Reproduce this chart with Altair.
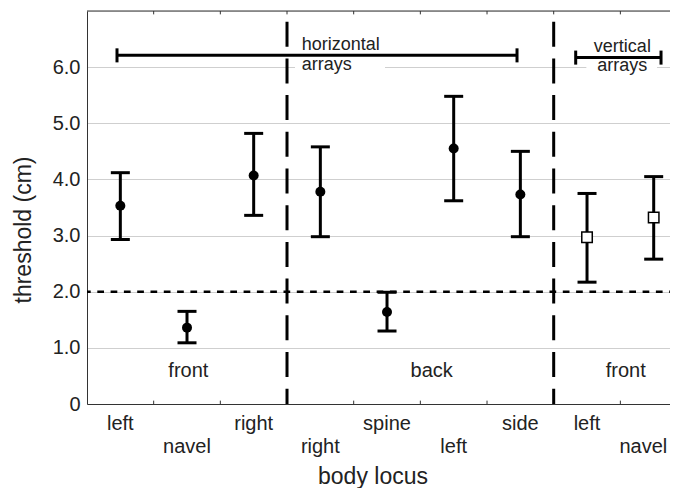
import altair as alt
import pandas as pd

# ---------------- data ----------------
loci = ["left", "navel", "right", "right", "spine", "left", "side", "left", "navel"]
array_type = ["horizontal"] * 7 + ["vertical"] * 2
means = [3.53, 1.36, 4.07, 3.78, 1.64, 4.55, 3.73, 2.97, 3.32]
lower = [2.93, 1.09, 3.36, 2.98, 1.30, 3.62, 2.98, 2.17, 2.58]
upper = [4.12, 1.65, 4.82, 4.58, 1.99, 5.48, 4.50, 3.75, 4.05]
label_row = [1, 2, 1, 2, 1, 2, 1, 1, 2]

section_names = ["front", "back", "front"]
section_x = [1.52, 5.17, 8.08]
section_y = [0.59, 0.59, 0.59]

dividers = [3, 7]
criterion = 2.0
boundaries = [1, 2, 3, 4, 5, 6, 7, 8]

group_line1 = ["horizontal", "vertical"]
group_line2 = ["arrays", "arrays"]
group_start = [0.45, 7.33]
group_end = [6.45, 8.61]
group_level = [6.21, 6.17]
group_text_x = [3.22, 8.03]
group_text_y1 = [6.305, 6.27]
group_text_y2 = [5.95, 5.93]
group_mask_x1 = [3.12, 7.49]
group_mask_x2 = [4.47, 8.55]

y_ticks = [0, 1, 2, 3, 4, 5, 6]
PLOT_W = 583
UNIT = 66.67
XMAX = PLOT_W / UNIT
YMAX = 7

FONT = "Liberation Sans"
INK = "#222222"

# ---------------- tables ----------------
pts = pd.DataFrame({
    "pos": [i + 0.5 for i in range(len(loci))],
    "locus": loci, "array": array_type,
    "mean": means, "lo": lower, "hi": upper, "row": label_row,
})
sections = pd.DataFrame({"name": section_names, "x": section_x, "y": section_y})
divs = pd.DataFrame({"x": dividers})
bnds = pd.DataFrame({"x": boundaries})
groups = pd.DataFrame({
    "l1": group_line1, "l2": group_line2, "start": group_start, "end": group_end,
    "level": group_level, "tx": group_text_x, "ty1": group_text_y1, "ty2": group_text_y2,
    "mx1": group_mask_x1, "mx2": group_mask_x2,
})
one = pd.DataFrame({"a": [0]})

xs = alt.Scale(domain=[0, XMAX], nice=False, zero=False)
ys = alt.Scale(domain=[0, YMAX], nice=False, zero=False)
xaxis = alt.Axis(labels=False, ticks=False, grid=False, domain=True,
                 domainColor="#333333", domainWidth=1, title=None)
yaxis = alt.Axis(values=y_ticks,
                 labelExpr="datum.value == 0 ? '0' : format(datum.value, '.1f')",
                 ticks=False, grid=True, gridColor="#cfcfcf", gridWidth=1,
                 domain=True, domainColor="#333333", domainWidth=1,
                 labelPadding=7, labelFontSize=20, labelFont=FONT,
                 labelColor=INK, title=None)


def X(f, **kw):
    return alt.X(f, type="quantitative", scale=xs, axis=xaxis, **kw)


def Y(f, **kw):
    return alt.Y(f, type="quantitative", scale=ys, axis=yaxis, **kw)


layers = []

# masks behind "arrays" text (interrupt gridline)
layers.append(alt.Chart(groups).mark_rect(color="white").encode(
    x=X("mx1"), x2="mx2", y=alt.Y(datum=5.82, type="quantitative", scale=ys, axis=yaxis),
    y2=alt.Y2(datum=6.1)))

# top border
layers.append(alt.Chart(one).mark_rule(color="#333333", strokeWidth=1).encode(
    x=alt.X(datum=0, type="quantitative", scale=xs, axis=xaxis), x2=alt.X2(datum=XMAX),
    y=alt.Y(datum=YMAX, type="quantitative", scale=ys, axis=yaxis)))

# inward ticks bottom and top
layers.append(alt.Chart(bnds).mark_rule(color="#333333", strokeWidth=1).encode(
    x=X("x"), y=alt.Y(datum=0, type="quantitative", scale=ys, axis=yaxis), y2=alt.Y2(datum=0.06)))
layers.append(alt.Chart(bnds).mark_rule(color="#333333", strokeWidth=1).encode(
    x=X("x"), y=alt.Y(datum=YMAX, type="quantitative", scale=ys, axis=yaxis), y2=alt.Y2(datum=YMAX - 0.06)))

# criterion dotted line
layers.append(alt.Chart(one).mark_rule(color="black", strokeWidth=2.5,
                                       strokeDash=[6.7, 6.6], strokeDashOffset=3).encode(
    x=alt.X(datum=0, type="quantitative", scale=xs, axis=xaxis), x2=alt.X2(datum=XMAX),
    y=alt.Y(datum=criterion, type="quantitative", scale=ys, axis=yaxis)))

# dividers
layers.append(alt.Chart(divs).mark_rule(color="black", strokeWidth=3,
                                        strokeDash=[25, 11.7], strokeDashOffset=26).encode(
    x=X("x"), y=alt.Y(datum=YMAX, type="quantitative", scale=ys, axis=yaxis), y2=alt.Y2(datum=0)))

# error bars
layers.append(alt.Chart(pts).mark_rule(color="black", strokeWidth=3).encode(
    x=X("pos"), y=Y("lo"), y2="hi"))
layers.append(alt.Chart(pts).mark_tick(color="black", orient="horizontal", size=19,
                                       thickness=3, opacity=1).encode(x=X("pos"), y=Y("lo")))
layers.append(alt.Chart(pts).mark_tick(color="black", orient="horizontal", size=19,
                                       thickness=3, opacity=1).encode(x=X("pos"), y=Y("hi")))

# markers
layers.append(alt.Chart(pts).transform_filter("datum.array == 'horizontal'").mark_circle(
    color="black", size=100, opacity=1).encode(x=X("pos"), y=Y("mean")))
layers.append(alt.Chart(pts).transform_filter("datum.array == 'vertical'").mark_point(
    shape="square", filled=True, fill="white", stroke="black", strokeWidth=1.5,
    size=110, opacity=1).encode(x=X("pos"), y=Y("mean")))

# group brackets
layers.append(alt.Chart(groups).mark_rule(color="black", strokeWidth=3).encode(
    x=X("start"), x2="end", y=Y("level")))
cap = alt.Chart(groups).transform_calculate(a="datum.level - 0.125", b="datum.level + 0.125")
layers.append(cap.mark_rule(color="black", strokeWidth=3).encode(x=X("start"), y=Y("a:Q"), y2="b:Q"))
layers.append(cap.mark_rule(color="black", strokeWidth=3).encode(x=X("end"), y=Y("a:Q"), y2="b:Q"))

# group texts
for idx, align in [(0, "left"), (1, "center")]:
    g = alt.Chart(groups.iloc[[idx]])
    for ycol, tcol in [("ty1", "l1"), ("ty2", "l2")]:
        layers.append(g.mark_text(align=align, baseline="alphabetic", fontSize=18,
                                  font=FONT, color=INK).encode(
            x=X("tx"), y=Y(ycol), text=tcol))

# section labels
layers.append(alt.Chart(sections).mark_text(baseline="middle", fontSize=20, font=FONT,
                                            color=INK).encode(
    x=X("x"), y=Y("y"), text="name"))

# locus labels (two staggered rows); keep the last one inside the visible area
for r, ypix in [(1, 419), (2, 442)]:
    layers.append(alt.Chart(pts).transform_filter(f"datum.row == {r}").transform_calculate(
        lx=f"min(datum.pos, {XMAX - 0.4})").mark_text(
        baseline="alphabetic", fontSize=20, font=FONT, color=INK).encode(
        x=X("lx:Q"), y=alt.value(ypix), text="locus"))

# axis titles
layers.append(alt.Chart(pd.DataFrame({"t": ["body locus"]})).mark_text(
    baseline="alphabetic", fontSize=23, font=FONT, color=INK).encode(
    x=alt.value(286), y=alt.value(473), text="t"))
layers.append(alt.Chart(pd.DataFrame({"t": ["threshold (cm)"]})).mark_text(
    baseline="middle", angle=270, fontSize=23, font=FONT, color=INK).encode(
    x=alt.value(-63), y=alt.value(219), text="t"))

chart = alt.layer(*layers).properties(
    width=PLOT_W, height=393,
    autosize=alt.AutoSizeParams(type="none"),
    padding={"left": 79, "top": 3, "right": 0, "bottom": 84},
).configure_view(stroke=None).configure(font=FONT)

chart.save("out.html", embed_options={"renderer": "svg", "actions": False})
